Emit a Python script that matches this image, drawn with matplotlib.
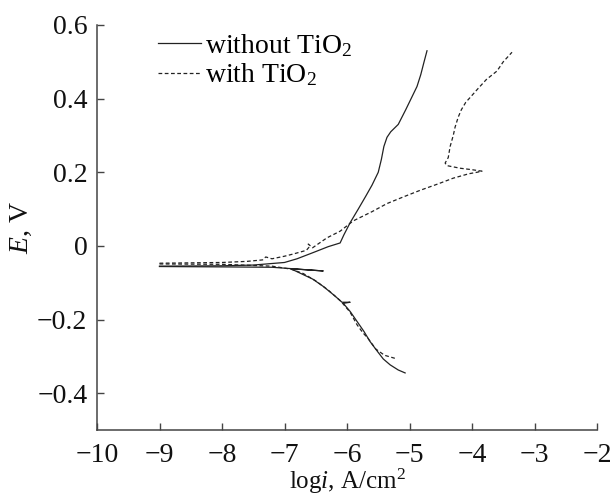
import matplotlib
matplotlib.use("Agg")
import matplotlib.pyplot as plt
from matplotlib.ticker import FuncFormatter

plt.rcParams['font.family'] = 'serif'
plt.rcParams['font.serif'] = ['Liberation Serif']
plt.rcParams['mathtext.fontset'] = 'custom'
plt.rcParams['mathtext.rm'] = 'Liberation Serif'
plt.rcParams['mathtext.it'] = 'Liberation Serif:italic'
plt.rcParams['mathtext.bf'] = 'Liberation Serif:bold'

# Data: without TiO2 (solid)
wo_cat_x = [-9.0, -8.0, -7.2, -6.38, -6.9, -6.75, -6.55, -6.38, -6.2, -6.08, -5.95, -6.06,
            -5.95, -5.84, -5.73, -5.63, -5.52, -5.42, -5.31, -5.18, -5.07]
wo_cat_y = [-0.056, -0.057, -0.058, -0.068, -0.062, -0.074, -0.09, -0.11, -0.135, -0.153, -0.153, -0.156,
            -0.178, -0.205, -0.232, -0.26, -0.285, -0.307, -0.323, -0.337, -0.345]
wo_an_x = [-9.0, -8.0, -7.5, -7.0, -6.8, -6.54, -6.3, -6.11, -6.05, -5.95, -5.82, -5.7, -5.6,
           -5.5, -5.45, -5.41, -5.36, -5.3, -5.18, -5.06, -4.96, -4.88, -4.82, -4.77, -4.72]
wo_an_y = [-0.055, -0.054, -0.052, -0.045, -0.035, -0.018, -0.002, 0.008, 0.03, 0.063, 0.1, 0.135, 0.165,
           0.2, 0.235, 0.27, 0.295, 0.31, 0.33, 0.37, 0.405, 0.433, 0.465, 0.498, 0.53]

# Data: with TiO2 (dashed)
w_cat_x = [-9.0, -8.0, -7.2, -6.9, -6.7, -6.5, -6.3, -6.1, -5.95, -5.84, -5.75, -5.66, -5.54, -5.4, -5.2]
w_cat_y = [-0.049, -0.05, -0.055, -0.063, -0.075, -0.095, -0.12, -0.15, -0.18, -0.214, -0.235, -0.252,
           -0.28, -0.297, -0.307]
w_an_x = [-9.0, -8.0, -7.6, -7.35, -7.3, -7.2, -7.0, -6.86, -6.65, -6.6, -6.62, -6.55, -6.32, -6.11,
          -5.9, -5.6, -5.36, -5.1, -4.83, -4.55, -4.3, -4.05, -3.92, -3.84, -4.0, -4.19, -4.4, -4.43,
          -4.38, -4.35, -4.3, -4.27, -4.22, -4.17, -4.1, -4.02, -3.9, -3.77, -3.6, -3.5, -3.36]
w_an_y = [-0.047, -0.045, -0.042, -0.038, -0.03, -0.035, -0.028, -0.022, -0.012, -0.002, 0.005, -0.005,
          0.022, 0.04, 0.068, 0.093, 0.115, 0.133, 0.151, 0.168, 0.184, 0.196, 0.2, 0.203, 0.207, 0.211,
          0.218, 0.225, 0.24, 0.27, 0.3, 0.323, 0.35, 0.37, 0.39, 0.405, 0.428, 0.452, 0.475, 0.5, 0.526]

labels = ["without TiO$_2$", "with TiO$_2$"]
x_ticks = [-10, -9, -8, -7, -6, -5, -4, -3, -2]
y_ticks = [-0.4, -0.2, 0, 0.2, 0.4, 0.6]

fs = 20

fig = plt.figure(figsize=(6.13, 4.96), dpi=100)
ax = fig.add_axes([97/613, 1-430/496, 500/613, 405/496])

lw = 0.9
col = '#222222'
l1, = ax.plot(wo_an_x, wo_an_y, color=col, lw=lw, ls='-')
ax.plot(wo_cat_x, wo_cat_y, color=col, lw=lw, ls='-')
l2, = ax.plot(w_an_x, w_an_y, color=col, lw=lw, ls=(0, (3, 2)))
ax.plot(w_cat_x, w_cat_y, color=col, lw=lw, ls=(0, (3, 2)))

ax.set_xlim(-10, -2)
ax.set_ylim(-0.5, 0.6)
ax.set_xticks(x_ticks)
ax.set_yticks(y_ticks)
ax.yaxis.set_major_formatter(FuncFormatter(lambda v, p: '0' if abs(v) < 1e-9 else f'{v:.1f}'.replace('-', '\u2212')))
ax.xaxis.set_major_formatter(FuncFormatter(lambda v, p: f'{int(round(v))}'.replace('-', '\u2212')))

for s in ['top', 'right']:
    ax.spines[s].set_visible(False)
for s in ['left', 'bottom']:
    ax.spines[s].set_color('#444444')
    ax.spines[s].set_linewidth(1.1)

ax.tick_params(direction='in', length=5, width=1, color='#444444', labelsize=fs, labelcolor='#111111')
ax.tick_params(axis='x', pad=9)
ax.tick_params(axis='y', pad=7)

fig.text(347/613, 7/496, "log$i$, A/cm$^2$", fontsize=18, color='#111111',
         ha='center', va='baseline')
ax.set_ylabel("$E$, V", fontsize=fs, color='#111111', labelpad=2)

fig.legend([l1, l2], labels, loc='upper left', bbox_to_anchor=(158/613, 1-32/496),
           frameon=False, fontsize=fs, handlelength=1.55, handletextpad=0.15,
           labelspacing=0.1, borderpad=0, borderaxespad=0)

fig.savefig('out.png', dpi=100)
